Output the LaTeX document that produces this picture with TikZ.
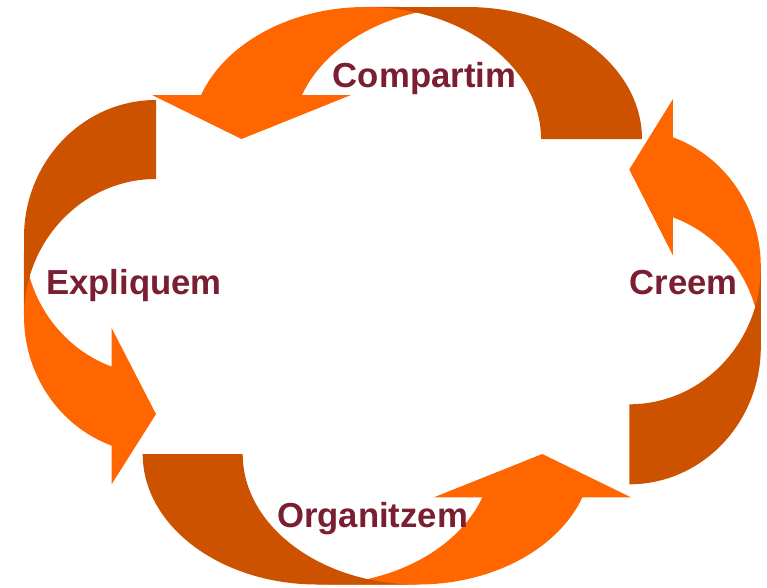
\documentclass[tikz,border=0pt]{standalone}
\usepackage{fontspec}
\setmainfont{Liberation Sans}
\definecolor{brightor}{RGB}{255,102,0}
\definecolor{darkor}{RGB}{204,82,0}
\definecolor{labelc}{RGB}{122,30,50}
\newcommand{\cvarr}[5]{%
  % #1 wR, #2 H, #3 th, #4 aw, #5 ah  (canonical: tail outer corner at origin, bulge upward)
  \pgfmathsetmacro{\cwR}{#1}%
  \pgfmathsetmacro{\cH}{#2}%
  \pgfmathsetmacro{\cth}{#3}%
  \pgfmathsetmacro{\caw}{#4}%
  \pgfmathsetmacro{\cah}{#5}%
  \pgfmathsetmacro{\cdx}{\cwR*sqrt(1-(\cah/\cH)^2)}%
  \pgfmathsetmacro{\cbeta}{asin(\cah/\cH)}%
  \pgfmathsetmacro{\cw}{2*\cwR+(\cth+\caw)/2}%
  \pgfmathsetmacro{\cdh}{(\caw-\cth)/2}%
  \pgfmathsetmacro{\ctip}{-(\cw-\caw/2)}%
  \pgfmathsetmacro{\cxo}{-\cwR-\cth-\cdx}%
  \pgfmathsetmacro{\cxi}{-\cwR-\cdx}%
  \fill[frontpart] (\ctip,0) -- (\cxo-\cdh,\cah) -- (\cxo,\cah)
    arc[start angle=180-\cbeta, end angle=90, x radius=\cwR, y radius=\cH]
    -- (-\cwR,\cH)
    arc[start angle=90, end angle=180-\cbeta, x radius=\cwR, y radius=\cH]
    -- (\cxi+\cdh,\cah) -- cycle;
  \fill[backpart] (0,0)
    arc[start angle=0, end angle=90, x radius=\cwR, y radius=\cH]
    -- (-\cwR-\cth,\cH)
    arc[start angle=90, end angle=0, x radius=\cwR, y radius=\cH]
    -- cycle;
}
\begin{document}
\begin{tikzpicture}[x=1pt,y=1pt,
  frontpart/.style={fill=brightor},
  backpart/.style={fill=darkor},
  lbl/.style={anchor=base, inner sep=0pt, text=labelc,
    font=\fontsize{34.7}{40}\selectfont\bfseries}]
\useasboundingbox (0,0) rectangle (767,-587);
% top arrow
\begin{scope}[shift={(642,-139)}]
  \cvarr{175}{132}{101}{199}{44}
\end{scope}
% right arrow
\begin{scope}[shift={(629.3,-484.3)}, rotate=-90]
  \cvarr{137.4}{131.5}{80}{156}{43.5}
\end{scope}
% bottom arrow
\begin{scope}[shift={(142.7,-454)}, rotate=180]
  \cvarr{174.8}{130.5}{100}{197}{43.3}
\end{scope}
% left arrow
\begin{scope}[shift={(156,-100)}, rotate=90]
  \cvarr{137.3}{132}{79}{156}{44.3}
\end{scope}
\node[lbl] (compartim) at (424.5,-87) {Compartim};
\node[lbl] (expliquem) at (134,-294.5) {Expliquem};
\node[lbl] (creem) at (683.7,-294.3) {Creem};
\node[lbl] (organitzem) at (372.5,-527.3) {Organitzem};
\end{tikzpicture}
\end{document}
